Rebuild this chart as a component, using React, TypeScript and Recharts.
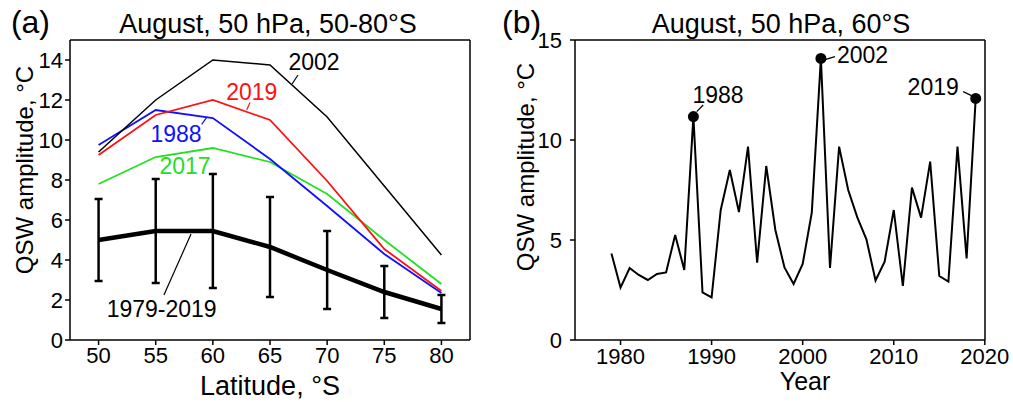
import React from "react";
import { LineChart, Line, XAxis, YAxis, ErrorBar, ReferenceLine, ReferenceDot } from "recharts";

// ---- panel (a): August, 50 hPa, QSW amplitude vs latitude ----
const latitudes = [50, 55, 60, 65, 70, 75, 80];
const amp2002 = [9.4, 12.0, 14.0, 13.75, 11.15, 7.7, 4.25];
const amp2019 = [9.25, 11.25, 12.0, 11.0, 7.95, 4.55, 2.45];
const amp1988 = [9.75, 11.5, 11.1, 9.05, 6.7, 4.3, 2.35];
const amp2017 = [7.8, 9.15, 9.6, 8.9, 7.3, 5.0, 2.8];
const ampMean = [5.0, 5.45, 5.45, 4.65, 3.5, 2.4, 1.55];
const ampStd = [2.05, 2.6, 2.85, 2.5, 1.95, 1.3, 0.7];

const latTicks = [50, 55, 60, 65, 70, 75, 80];
const ampTicksA = [0, 2, 4, 6, 8, 10, 12, 14];

// ---- panel (b): August, 50 hPa, 60°S time series ----
const years = [
  1979, 1980, 1981, 1982, 1983, 1984, 1985, 1986, 1987, 1988,
  1989, 1990, 1991, 1992, 1993, 1994, 1995, 1996, 1997, 1998,
  1999, 2000, 2001, 2002, 2003, 2004, 2005, 2006, 2007, 2008,
  2009, 2010, 2011, 2012, 2013, 2014, 2015, 2016, 2017, 2018, 2019,
];
const amp60S = [
  4.33, 2.62, 3.6, 3.25, 3.0, 3.3, 3.38, 5.25, 3.5, 11.17,
  2.38, 2.13, 6.5, 8.5, 6.4, 9.67, 3.87, 8.7, 5.5, 3.63,
  2.8, 3.8, 6.37, 14.08, 3.6, 9.67, 7.5, 6.13, 5.03, 2.98,
  3.92, 6.5, 2.7, 7.62, 6.12, 8.92, 3.2, 2.92, 9.67, 4.08, 12.08,
];
const highlightYears = [1988, 2002, 2019];

const yearTicks = [1980, 1990, 2000, 2010, 2020];
const ampTicksB = [0, 5, 10, 15];

const FONT = "'Liberation Sans', Arial, Helvetica, sans-serif";
const tickText = { fill: "#000", fontSize: 22, fontFamily: FONT };
const txt = (value: string, fontSize: number, fill = "#000", angle = 0) => ({
  value,
  position: "center" as const,
  fill,
  fontSize,
  fontFamily: FONT,
  angle,
});

function PanelA() {
  const data = latitudes.map((lat, i) => ({
    lat,
    y2002: amp2002[i],
    y2019: amp2019[i],
    y1988: amp1988[i],
    y2017: amp2017[i],
    mean: ampMean[i],
    sd: ampStd[i],
  }));
  const dom: [number, number] = [47.5, 82.5];
  const ydom: [number, number] = [0, 15];
  return (
    <LineChart width={500} height={402} data={data} margin={{ top: 40, right: 30, bottom: 61, left: 69 }}>
      <XAxis xAxisId="x" dataKey="lat" type="number" domain={dom} ticks={latTicks} interval={0} height={1}
        stroke="#000" strokeWidth={1.5} tickSize={5} tickMargin={2} tick={tickText} />
      <YAxis yAxisId="y" type="number" domain={ydom} ticks={ampTicksA} interval={0} width={1}
        stroke="#000" strokeWidth={1.5} tickSize={5} tickMargin={2} tick={tickText} />

      <ReferenceLine xAxisId="x" yAxisId="y" x={82.5} stroke="#000" strokeWidth={1.5} ifOverflow="visible" />
      <ReferenceLine xAxisId="x" yAxisId="y" y={15} stroke="#000" strokeWidth={1.5} ifOverflow="visible" />

      <Line xAxisId="x" yAxisId="y" dataKey="y2017" stroke="#22e022" strokeWidth={1.8} dot={false} activeDot={false} isAnimationActive={false} />
      <Line xAxisId="x" yAxisId="y" dataKey="y1988" stroke="#1010ff" strokeWidth={1.8} dot={false} activeDot={false} isAnimationActive={false} />
      <Line xAxisId="x" yAxisId="y" dataKey="y2019" stroke="#ff1010" strokeWidth={1.8} dot={false} activeDot={false} isAnimationActive={false} />
      <Line xAxisId="x" yAxisId="y" dataKey="y2002" stroke="#000" strokeWidth={1.5} dot={false} activeDot={false} isAnimationActive={false} />
      <Line xAxisId="x" yAxisId="y" dataKey="mean" stroke="#000" strokeWidth={4.5} dot={false} activeDot={false} isAnimationActive={false}>
        <ErrorBar dataKey="sd" direction="y" width={4} stroke="#000" strokeWidth={2.5} isAnimationActive={false} />
      </Line>

      {/* leader lines */}
      <ReferenceLine xAxisId="x" yAxisId="y" segment={[{ x: 67.45, y: 13.25 }, { x: 66.93, y: 12.8 }]} stroke="#000" strokeWidth={1.2} />
      <ReferenceLine xAxisId="x" yAxisId="y" segment={[{ x: 63.25, y: 11.87 }, { x: 62.96, y: 11.5 }]} stroke="#ff1010" strokeWidth={1.2} />
      <ReferenceLine xAxisId="x" yAxisId="y" segment={[{ x: 59.02, y: 10.78 }, { x: 59.46, y: 11.13 }]} stroke="#1010ff" strokeWidth={1.2} />
      <ReferenceLine xAxisId="x" yAxisId="y" segment={[{ x: 55.72, y: 2.25 }, { x: 58.09, y: 5.3 }]} stroke="#000" strokeWidth={1.2} />

      {/* series labels */}
      <ReferenceDot xAxisId="x" yAxisId="y" x={68.85} y={13.9} r={0} fill="none" stroke="none" label={txt("2002", 23)} />
      <ReferenceDot xAxisId="x" yAxisId="y" x={63.4} y={12.42} r={0} fill="none" stroke="none" label={txt("2019", 23, "#ff1010")} />
      <ReferenceDot xAxisId="x" yAxisId="y" x={56.78} y={10.33} r={0} fill="none" stroke="none" label={txt("1988", 23, "#1010ff")} />
      <ReferenceDot xAxisId="x" yAxisId="y" x={57.56} y={8.7} r={0} fill="none" stroke="none" label={txt("2017", 23, "#22e022")} />
      <ReferenceDot xAxisId="x" yAxisId="y" x={55.52} y={1.58} r={0} fill="none" stroke="none" label={txt("1979-2019", 23)} />

      {/* panel letter, title and axis titles */}
      <ReferenceDot xAxisId="x" yAxisId="y" x={44.04} y={15.92} r={0} fill="none" stroke="none" ifOverflow="visible" label={txt("(a)", 32)} />
      <ReferenceDot xAxisId="x" yAxisId="y" x={64.83} y={15.83} r={0} fill="none" stroke="none" ifOverflow="visible" label={txt("August, 50 hPa, 50-80°S", 27)} />
      <ReferenceDot xAxisId="x" yAxisId="y" x={65.0} y={-2.27} r={0} fill="none" stroke="none" ifOverflow="visible" label={txt("Latitude, °S", 27)} />
      <ReferenceDot xAxisId="x" yAxisId="y" x={43.52} y={8.5} r={0} fill="none" stroke="none" ifOverflow="visible" label={txt("QSW amplitude, °C", 24, "#000", -90)} />
    </LineChart>
  );
}

function PanelB() {
  const data = years.map((year, i) => ({ year, amp: amp60S[i] }));
  const dom: [number, number] = [1975, 2020.02];
  const ydom: [number, number] = [0, 15];
  const renderDot = (p: any) =>
    highlightYears.includes(p.payload.year) ? (
      <circle key={`dot-${p.index}`} cx={p.cx} cy={p.cy} r={5.5} fill="#000" />
    ) : (
      <g key={`dot-${p.index}`} />
    );
  return (
    <LineChart width={513} height={402} data={data} margin={{ top: 40, right: 28, bottom: 61, left: 74 }}>
      <XAxis xAxisId="x" dataKey="year" type="number" domain={dom} ticks={yearTicks} interval={0} height={1}
        allowDataOverflow stroke="#000" strokeWidth={1.5} tickSize={5} tickMargin={3} tick={tickText} />
      <YAxis yAxisId="y" type="number" domain={ydom} ticks={ampTicksB} interval={0} width={1}
        stroke="#000" strokeWidth={1.5} tickSize={5} tickMargin={8} tick={tickText} />

      <ReferenceLine xAxisId="x" yAxisId="y" x={2020.02} stroke="#000" strokeWidth={1.5} ifOverflow="visible" />
      <ReferenceLine xAxisId="x" yAxisId="y" y={15} stroke="#000" strokeWidth={1.5} ifOverflow="visible" />

      <Line xAxisId="x" yAxisId="y" dataKey="amp" stroke="#000" strokeWidth={2} dot={renderDot} activeDot={false}
        isAnimationActive={false} />

      <ReferenceLine xAxisId="x" yAxisId="y" segment={[{ x: 1988.36, y: 11.42 }, { x: 1989.08, y: 11.75 }]} stroke="#000" strokeWidth={1.2} />
      <ReferenceLine xAxisId="x" yAxisId="y" segment={[{ x: 2002.55, y: 14.03 }, { x: 2003.54, y: 14.17 }]} stroke="#000" strokeWidth={1.2} />
      <ReferenceLine xAxisId="x" yAxisId="y" segment={[{ x: 2017.62, y: 12.42 }, { x: 2018.54, y: 12.22 }]} stroke="#000" strokeWidth={1.2} />

      <ReferenceDot xAxisId="x" yAxisId="y" x={1990.7} y={12.25} r={0} fill="none" stroke="none" label={txt("1988", 23)} />
      <ReferenceDot xAxisId="x" yAxisId="y" x={2006.57} y={14.25} r={0} fill="none" stroke="none" label={txt("2002", 23)} />
      <ReferenceDot xAxisId="x" yAxisId="y" x={2014.33} y={12.67} r={0} fill="none" stroke="none" label={txt("2019", 23)} />

      <ReferenceDot xAxisId="x" yAxisId="y" x={1969.13} y={15.92} r={0} fill="none" stroke="none" ifOverflow="visible" label={txt("(b)", 32)} />
      <ReferenceDot xAxisId="x" yAxisId="y" x={1997.62} y={15.83} r={0} fill="none" stroke="none" ifOverflow="visible" label={txt("August, 50 hPa, 60°S", 27)} />
      <ReferenceDot xAxisId="x" yAxisId="y" x={2000.26} y={-2.06} r={0} fill="none" stroke="none" ifOverflow="visible" label={txt("Year", 25)} />
      <ReferenceDot xAxisId="x" yAxisId="y" x={1969.56} y={8.65} r={0} fill="none" stroke="none" ifOverflow="visible" label={txt("QSW amplitude, °C", 24, "#000", -90)} />
    </LineChart>
  );
}

export default function App() {
  return (
    <div style={{ position: "absolute", left: 0, top: 0, width: 1013, height: 402, background: "#fff", fontFamily: FONT }}>
      <div style={{ position: "absolute", left: 0, top: 0 }}>
        <PanelA />
      </div>
      <div style={{ position: "absolute", left: 500, top: 0 }}>
        <PanelB />
      </div>
    </div>
  );
}
